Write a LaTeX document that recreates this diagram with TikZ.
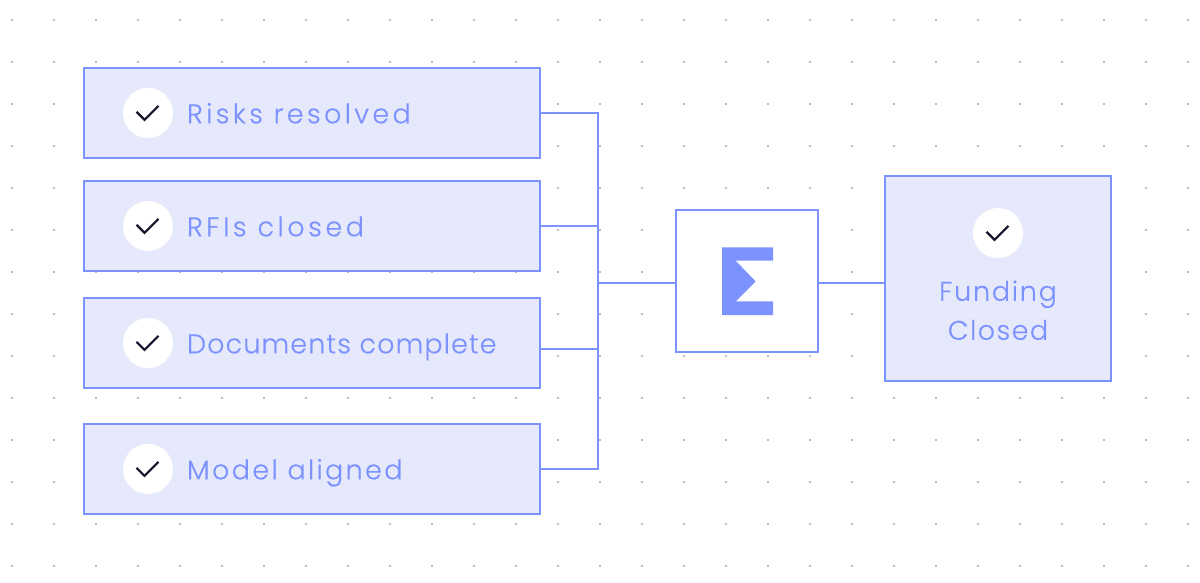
\documentclass[tikz,border=0pt]{standalone}
\usepackage{fontspec}
\setmainfont{Poppins Light}[FakeBold=0.25]
\definecolor{bluecol}{HTML}{7B92FF}
\definecolor{boxfill}{HTML}{E6E8FB}
\definecolor{tickcol}{HTML}{14142B}
\definecolor{dotcol}{HTML}{BDBDBD}
\newcommand{\spaced}[2]{\addfontfeature{LetterSpace=#1}#2}
\tikzset{
  panel/.style={draw=bluecol,fill=boxfill,line width=1.5pt,minimum width=456pt,minimum height=90pt,inner sep=0pt,outer sep=0pt},
  badge/.style={circle,fill=white,minimum size=50pt,inner sep=0pt,outer sep=0pt},
  lbl/.style={text=bluecol,font=\fontsize{27}{38}\selectfont,inner sep=0pt,outer sep=0pt,anchor=base west},
  lblc/.style={lbl,anchor=base},
  link/.style={draw=bluecol,line width=1.5pt},
  tickmark/.style={draw=tickcol,line width=2.2pt}
}
\begin{document}
\begin{tikzpicture}[x=1pt,y=-1pt]
\useasboundingbox (0,0) rectangle (1200,582);
\fill[white] (0,0) rectangle (1200,582);
% dot grid
\foreach \ix in {0,...,28}{\foreach \iy in {0,...,13}{
  \fill[dotcol] ({11+42*\ix},{19+42*\iy}) rectangle ++(2,2);
}}
% bus and junction coordinates
\coordinate (bustop) at (598,113);
\coordinate (busbot) at (598,469);
\coordinate (busmid) at (598,283);
% input panels
\node[panel] (r1) at (312,113) {};
\node[panel] (r2) at (312,226) {};
\node[panel] (r3) at (312,343) {};
\node[panel] (r4) at (312,469) {};
\node[badge] (c1) at (148,113) {};
\node[badge] (c2) at (148,226) {};
\node[badge] (c3) at (148,343) {};
\node[badge] (c4) at (148,469) {};
\foreach \c in {c1,c2,c3,c4}{
  \draw[tickmark] ([shift={(-11.5,-1.2)}]\c.center) -- ++(8,8) -- ++(14,-14);
}
\node[lbl] (t1) at (187,123.3) {\spaced{12.4}{Risks resolved}};
\node[lbl] (t2) at (187,236.3) {\spaced{13}{RFIs closed}};
\node[lbl] (t3) at (187,353.3) {\spaced{4.2}{Documents complete}};
\node[lbl] (t4) at (187,479.3) {\spaced{8.7}{Model aligned}};
% sigma box
\node[draw=bluecol,fill=white,line width=1.5pt,minimum size=142pt,inner sep=0pt,outer sep=0pt] (sig) at (747,281) {};
\fill[bluecol] (722,247.3) -- (773,247.3) -- (773,260.7) -- (735.7,260.7) -- (755.7,281.5) -- (735.7,301.3) -- (773,301.3) -- (773,315) -- (722,315) -- cycle;
% result
\node[draw=bluecol,fill=boxfill,line width=1.5pt,minimum width=226pt,minimum height=205pt,inner sep=0pt,outer sep=0pt] (res) at (998,278.5) {};
\node[badge] (c5) at (998,233) {};
\draw[tickmark] ([shift={(-11.5,-1.2)}]c5.center) -- ++(8,8) -- ++(14,-14);
\node[lblc] (t5a) at (998,300.8) {\spaced{6.5}{Funding}};
\node[lblc] (t5b) at (998,339.8) {\spaced{5.3}{Closed}};
% connectors
\draw[link] (r1.east) -- (bustop);
\draw[link] (r2.east) -- (bustop |- r2.east);
\draw[link] ([yshift=-6pt]r3.east) -- ([yshift=-6pt]bustop |- r3.east);
\draw[link] (r4.east) -- (busbot);
\draw[link,line cap=rect] (bustop) -- (busbot);
\draw[link] (busmid) -- (busmid -| sig.west);
\draw[link] (sig.east |- busmid) -- (res.west |- busmid);
\end{tikzpicture}
\end{document}
